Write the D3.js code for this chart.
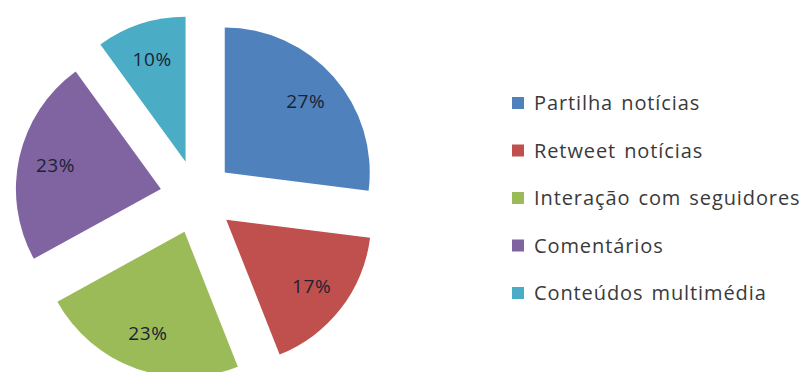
<!DOCTYPE html>
<html lang="pt">
<head>
<meta charset="utf-8">
<title>Pie</title>
<style>
  body { margin: 0; background: #fff; }
  svg { display: block; }
</style>
</head>
<body>
<div id="chart"></div>
<script src="https://d3js.org/d3.v7.min.js"></script>
<script>
var categories = ["Partilha notícias", "Retweet notícias", "Interação com seguidores", "Comentários", "Conteúdos multimédia"];
var values = [27, 17, 23, 23, 10];
var colors = ["#4f81bd", "#c0504d", "#9bbb59", "#8064a2", "#4bacc6"];

var width = 808, height = 372;
var cx = 197, cy = 197;
var radius = 145;
var explode = 37;
var labelR = 108;

var svg = d3.select("#chart").append("svg")
    .attr("width", width)
    .attr("height", height);

var pie = d3.pie().sort(null).value(function(d) { return d; });
var arcs = pie(values);

var arc = d3.arc().innerRadius(0).outerRadius(radius);
var labelArc = d3.arc().innerRadius(labelR).outerRadius(labelR);

var total = d3.sum(values);

var g = svg.append("g").attr("transform", "translate(" + cx + "," + cy + ")");

var slices = g.selectAll("g.slice")
    .data(arcs)
    .enter()
    .append("g")
    .attr("class", "slice")
    .attr("transform", function(d) {
        var mid = (d.startAngle + d.endAngle) / 2;
        return "translate(" + (Math.sin(mid) * explode) + "," + (-Math.cos(mid) * explode) + ")";
    });

slices.append("path")
    .attr("d", arc)
    .attr("fill", function(d, i) { return colors[i]; });

slices.append("text")
    .attr("transform", function(d) { return "translate(" + labelArc.centroid(d) + ")"; })
    .attr("text-anchor", "middle")
    .attr("dy", "0.35em")
    .attr("font-family", "Open Sans, sans-serif")
    .attr("font-size", 19)
    .attr("letter-spacing", 0.6)
    .attr("fill", "#1b2233")
    .text(function(d) { return Math.round(d.value / total * 100) + "%"; });

// legend
var legendX = 512, legendY = 103, rowGap = 47.5;
var legend = svg.selectAll("g.legend")
    .data(categories)
    .enter()
    .append("g")
    .attr("class", "legend")
    .attr("transform", function(d, i) { return "translate(" + legendX + "," + (legendY + i * rowGap) + ")"; });

legend.append("rect")
    .attr("x", 0)
    .attr("y", -6)
    .attr("width", 12)
    .attr("height", 12)
    .attr("fill", function(d, i) { return colors[i]; });

legend.append("text")
    .attr("x", 22)
    .attr("dy", "0.35em")
    .attr("font-family", "Open Sans, sans-serif")
    .attr("font-size", 20)
    .attr("letter-spacing", 0.9)
    .attr("word-spacing", 2)
    .attr("fill", "#3a3a3a")
    .text(function(d) { return d; });
</script>
</body>
</html>
